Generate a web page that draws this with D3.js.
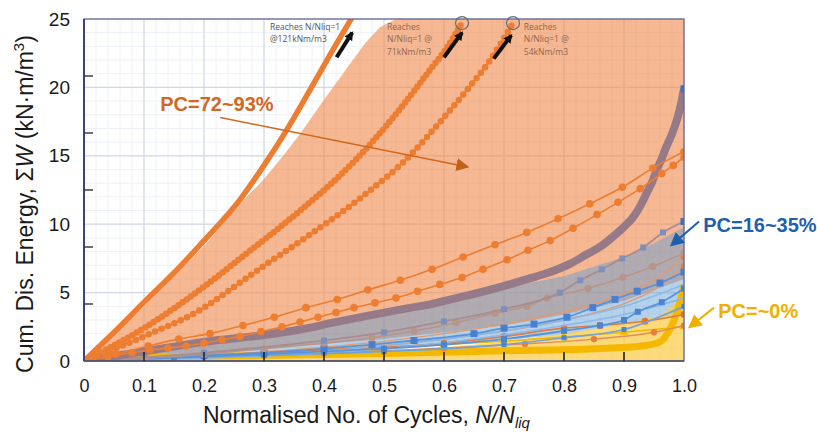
<!DOCTYPE html>
<html>
<head>
<meta charset="utf-8">
<script src="https://cdn.jsdelivr.net/npm/d3@7"></script>
<style>
  body { margin: 0; background: #fff; }
  text { font-family: Arial, "Liberation Sans", sans-serif; }
</style>
</head>
<body>
<div id="grafico"></div>
<script>
// ---- data ----
var xTicks = [0, 0.1, 0.2, 0.3, 0.4, 0.5, 0.6, 0.7, 0.8, 0.9, 1.0];
var xTickLabels = ["0", "0.1", "0.2", "0.3", "0.4", "0.5", "0.6", "0.7", "0.8", "0.9", "1.0"];
var yTicks = [0, 5, 10, 15, 20, 25];

// PC = 72~93% (orange)
var pcHighA = [[0,0],[0.05,2.1],[0.1,4.3],[0.16,6.9],[0.2,8.8],[0.26,11.8],[0.3,14.3],[0.338,16.9],[0.37,19.3],[0.405,22.0],[0.448,25.2]];
var pcHighB = [[0,0],[0.1,2.4],[0.193,5.2],[0.272,7.9],[0.33,9.9],[0.382,11.8],[0.43,13.7],[0.472,15.6],[0.53,18.6],[0.577,21.3],[0.6,22.6],[0.63,24.7]];
var pcHighC = [[0,0],[0.1,1.8],[0.2,3.9],[0.243,5.2],[0.298,6.9],[0.382,9.4],[0.472,12.3],[0.543,15.0],[0.582,16.9],[0.638,19.8],[0.677,22.0],[0.715,24.7]];
var pcHighD = [[0,0],[0.053,0.5],[0.107,1.1],[0.158,1.6],[0.21,2.0],[0.265,2.6],[0.317,3.2],[0.37,3.9],[0.422,4.5],[0.473,5.2],[0.527,5.9],[0.58,6.7],[0.632,7.6],[0.685,8.5],[0.738,9.4],[0.79,10.4],[0.843,11.5],[0.897,12.7],[0.948,14.1],[1.0,15.3]];
var pcHighE = [[0,0],[0.04,0.3],[0.08,0.6],[0.11,0.8],[0.14,0.95],[0.17,1.1],[0.2,1.3],[0.23,1.55],[0.26,1.8],[0.295,2.15],[0.33,2.5],[0.36,2.85],[0.39,3.2],[0.42,3.55],[0.45,3.9],[0.485,4.25],[0.52,4.6],[0.556,5.1],[0.593,5.6],[0.63,6.1],[0.665,6.7],[0.705,7.4],[0.74,8.1],[0.777,8.8],[0.815,9.7],[0.855,10.7],[0.89,11.6],[0.927,12.6],[0.963,13.7],[0.982,14.3],[1.0,14.9]];
var pcHighMauve = [[0,0],[0.1,0.7],[0.2,1.4],[0.3,1.9],[0.36,2.3],[0.415,2.8],[0.472,3.3],[0.52,3.7],[0.582,4.2],[0.64,4.8],[0.693,5.4],[0.74,6.0],[0.777,6.5],[0.81,7.1],[0.838,7.8],[0.862,8.4],[0.882,9.1],[0.9,9.8],[0.915,10.5],[0.928,11.4],[0.938,12.3],[0.947,13.1],[0.955,14.0],[0.963,14.8],[0.97,15.6],[0.98,16.6],[0.988,17.6],[0.995,18.8],[1.0,19.9]];
var orangeUpper = [[0,0],[0.1,4.0],[0.2,8.4],[0.26,11.5],[0.298,13.2],[0.33,14.9],[0.36,16.6],[0.4,19.1],[0.448,22.0],[0.47,23.3],[0.493,24.4],[0.52,25],[1.0,25]];
var orangeLower = [[0,0],[0.3,0.9],[0.5,1.6],[0.7,2.6],[0.8,3.4],[0.9,4.4],[1.0,6.0]];

// PC = 16~35% (blue)
var pcMidA = [[0,0],[0.2,0.6],[0.4,1.5],[0.5,2.1],[0.6,2.9],[0.7,3.8],[0.793,5.0],[0.827,5.9],[0.863,6.7],[0.897,7.5],[0.932,8.3],[0.965,9.4],[1.0,10.2]];
var pcMidB = [[0,0],[0.1,0.2],[0.2,0.5],[0.3,0.9],[0.4,1.3],[0.48,1.7],[0.55,2.2],[0.62,2.8],[0.685,3.5],[0.738,4.0],[0.772,4.6],[0.84,5.3],[0.898,6.1],[0.948,6.9],[1.0,7.9]];
var pcMidC = [[0,0],[0.1,0.2],[0.2,0.4],[0.3,0.6],[0.4,0.9],[0.48,1.2],[0.55,1.5],[0.65,2.0],[0.7,2.4],[0.75,2.7],[0.805,3.2],[0.848,3.9],[0.885,4.5],[0.922,5.1],[0.96,5.7],[1.0,6.5]];
var pcMidD = [[0,0],[0.15,0.25],[0.3,0.5],[0.4,0.7],[0.5,0.9],[0.6,1.2],[0.7,1.6],[0.8,2.2],[0.86,2.6],[0.9,3.0],[0.923,3.6],[0.963,4.3],[1.0,5.3]];
var pcMidE = [[0,0],[0.3,0.4],[0.5,0.7],[0.7,1.2],[0.8,1.7],[0.9,2.3],[1.0,4.0]];
var pcMidF = [[0,0],[0.5,0.9],[0.8,2.6],[0.9,3.4],[1.0,4.6]];
var pcMidG = [[0,0],[0.5,1.1],[0.8,3.0],[0.9,4.0],[1.0,5.6]];
var blueUpper = [[0,0],[0.2,1.2],[0.36,2.4],[0.527,3.9],[0.693,5.3],[0.8,6.2],[0.9,7.6],[0.95,8.6],[1.0,9.8]];
var blueLower = [[0,0],[0.5,0.8],[0.8,1.9],[0.9,2.7],[1.0,3.3]];

// other orange curves low in the plot
var lowOrangeA = [[0,0],[0.2,0.4],[0.4,0.8],[0.6,1.3],[0.7,1.8],[0.8,2.4],[0.86,2.6],[0.935,2.9],[1.0,3.4]];
var lowOrangeB = [[0,0],[0.2,0.3],[0.4,0.55],[0.5,0.75],[0.6,0.95],[0.735,1.25],[0.85,1.6],[0.95,2.1],[1.0,2.6]];
var lowOrangeC = [[0,0],[0.2,0.4],[0.4,1.0],[0.6,2.0],[0.8,3.6],[0.9,4.9],[0.95,5.9],[1.0,7.6]];
var lowOrangeD = [[0,0],[0.2,0.35],[0.4,0.8],[0.6,1.6],[0.8,3.0],[0.9,4.2],[0.95,5.2],[1.0,6.9]];

// PC = ~0% (yellow)
var pcZeroA = [[0,0],[0.1,0.25],[0.3,0.4],[0.5,0.55],[0.7,0.75],[0.85,0.9],[0.93,1.1],[0.96,1.4],[0.975,2.2],[0.988,3.5],[0.995,4.6],[1.0,5.6]];
var pcZeroB = [[0,0],[0.1,0.2],[0.2,0.4],[0.3,0.55],[0.4,0.75],[0.5,0.95],[0.6,1.2],[0.7,1.45],[0.8,1.75],[0.9,2.1],[1.0,2.5]];
var yellowUpper = [[0,0],[0.2,0.35],[0.4,0.55],[0.527,0.7],[0.7,1.4],[0.8,2.0],[0.9,2.7],[0.96,3.3],[0.985,4.2],[1.0,5.6]];
var yellowLower = [[0,0],[1.0,0]];

// "reaches" notes
var reachEnds = [[0.63,24.7],[0.715,24.7]];
var reachArrows = [[[0.421,22.2],[0.447,24.0]],[[0.6,22.2],[0.63,24.0]],[[0.683,22.1],[0.712,23.8]]];
var reachNotes = [
    {x: 0.31, y: 24.2, lines: ["Reaches N/Nliq=1", "@121kNm/m3"], color: "#555"},
    {x: 0.505, y: 24.2, lines: ["Reaches", "N/Nliq=1 @", "71kNm/m3"], color: "#8f6650"},
    {x: 0.733, y: 24.2, lines: ["Reaches", "N/Nliq=1 @", "54kNm/m3"], color: "#8f6650"}
];

// group labels
var groups = [
    {text: "PC=72~93%", color: "#d0681f", tx: 0.127, ty: 18.3, from: [0.227, 17.8], to: [0.638, 14.2]},
    {text: "PC=16~35%", color: "#1f5fae", tx: 1.032, ty: 9.43, from: [1.025, 10.2], to: [0.98, 8.5]},
    {text: "PC=~0%", color: "#f0b000", tx: 1.057, ty: 3.14, from: [1.05, 3.9], to: [1.01, 2.5]}
];

// ---- chart ----
var W = 817, H = 435;
var m = {top: 19, right: 133, bottom: 74, left: 84};
var w = W - m.left - m.right, h = H - m.top - m.bottom;

var x = d3.scaleLinear().domain([0, 1]).range([m.left, m.left + w]);
var y = d3.scaleLinear().domain([0, 25]).range([m.top + h, m.top]);

var svg = d3.select("#grafico").append("svg")
    .attr("width", W)
    .attr("height", H);

var defs = svg.append("defs");
defs.append("clipPath").attr("id", "plotclip")
    .append("rect").attr("x", m.left).attr("y", m.top).attr("width", w).attr("height", h);

function arrowHead(id, color, size) {
    defs.append("marker")
        .attr("id", id)
        .attr("viewBox", "0 0 10 10")
        .attr("refX", 8).attr("refY", 5)
        .attr("markerWidth", size).attr("markerHeight", size)
        .attr("markerUnits", "userSpaceOnUse")
        .attr("orient", "auto")
        .append("path").attr("d", "M0,0 L10,5 L0,10 Z").attr("fill", color);
}
arrowHead("ahOrange", "#c0601a", 13);
arrowHead("ahBlue", "#1f5fae", 14);
arrowHead("ahYellow", "#f0b000", 14);
arrowHead("ahBlack", "#111", 9);

// grid
var grid = svg.append("g");
grid.selectAll(".vminor").data(d3.range(0, 1.0001, 0.02)).enter().append("line")
    .attr("x1", function(d) { return x(d); }).attr("x2", function(d) { return x(d); })
    .attr("y1", y(0)).attr("y2", y(25))
    .attr("stroke", "#edf0f6").attr("stroke-width", 1);
grid.selectAll(".hminor").data(d3.range(0, 25.001, 1)).enter().append("line")
    .attr("y1", function(d) { return y(d); }).attr("y2", function(d) { return y(d); })
    .attr("x1", x(0)).attr("x2", x(1))
    .attr("stroke", "#edf0f6").attr("stroke-width", 1);
grid.selectAll(".vmajor").data(xTicks).enter().append("line")
    .attr("x1", function(d) { return x(d); }).attr("x2", function(d) { return x(d); })
    .attr("y1", y(0)).attr("y2", y(25))
    .attr("stroke", "#d3d9e6").attr("stroke-width", 1.2);
grid.selectAll(".hmajor").data(yTicks).enter().append("line")
    .attr("y1", function(d) { return y(d); }).attr("y2", function(d) { return y(d); })
    .attr("x1", x(0)).attr("x2", x(1))
    .attr("stroke", "#d3d9e6").attr("stroke-width", 1.2);

var plot = svg.append("g").attr("clip-path", "url(#plotclip)");

var line = d3.line()
    .x(function(d) { return x(d[0]); })
    .y(function(d) { return y(d[1]); })
    .curve(d3.curveMonotoneX);

var straight = d3.line()
    .x(function(d) { return x(d[0]); })
    .y(function(d) { return y(d[1]); });

function band(upper, lower, color, opacity) {
    plot.append("path")
        .attr("d", straight(upper.concat(lower.slice().reverse())) + "Z")
        .attr("fill", color)
        .attr("fill-opacity", opacity);
}

// shaded bands
band(orangeUpper, orangeLower, "#f08d4f", 0.62);
band(blueUpper, blueLower, "#5b9bd5", 0.45);
band(yellowUpper, yellowLower, "#fbcd4c", 0.75);

function curve(data, color, width) {
    return plot.append("path")
        .attr("d", line(data))
        .attr("fill", "none")
        .attr("stroke", color)
        .attr("stroke-width", width)
        .attr("stroke-linejoin", "round");
}

function dotted(data, color, size, gap) {
    curve(data, color, size)
        .attr("stroke-linecap", "round")
        .attr("stroke-dasharray", "0," + gap);
}

function circles(data, color, r) {
    plot.append("g").selectAll("circle").data(data).enter().append("circle")
        .attr("cx", function(d) { return x(d[0]); })
        .attr("cy", function(d) { return y(d[1]); })
        .attr("r", r)
        .attr("fill", color);
}

function squares(data, color, s) {
    plot.append("g").selectAll("rect").data(data).enter().append("rect")
        .attr("x", function(d) { return x(d[0]) - s / 2; })
        .attr("y", function(d) { return y(d[1]) - s / 2; })
        .attr("width", s).attr("height", s)
        .attr("fill", color);
}

function triangles(data, color, s) {
    plot.append("g").selectAll("path").data(data).enter().append("path")
        .attr("transform", function(d) { return "translate(" + x(d[0]) + "," + y(d[1]) + ")"; })
        .attr("d", d3.symbol().type(d3.symbolTriangle).size(s))
        .attr("fill", color);
}

// yellow group
curve(pcZeroB, "#f2b800", 1.6);
triangles(pcZeroB.slice(1), "#f2b800", 30);
curve(pcZeroA, "#f5b800", 7);

// low orange curves
curve(lowOrangeC, "#e39a6e", 1.4);
circles(lowOrangeC.slice(-1), "#e8803c", 3.5);
curve(lowOrangeD, "#e39a6e", 1.4);
circles(lowOrangeD.slice(-1), "#e8803c", 3.5);
curve(lowOrangeA, "#e07a40", 1.6);
circles(lowOrangeA.slice(1), "#e8722c", 3.5);
curve(lowOrangeB, "#e48c58", 1.4);
circles(lowOrangeB.slice(1), "#e8803c", 3.2);

// blue group
curve(pcMidF, "#8bb8e4", 1.6);
curve(pcMidG, "#8bb8e4", 1.6);
curve(pcMidE, "#6fa3dc", 1.6);
squares(pcMidE.slice(1), "#4a86d0", 5);
curve(pcMidD, "#5b93d8", 1.8);
squares(pcMidD.slice(1), "#4a86d0", 6);
curve(pcMidC, "#5b93d8", 1.8);
squares(pcMidC.slice(1), "#4a7fcf", 7);
curve(pcMidB, "#b8958a", 1.6);
circles(pcMidB.slice(1), "#b8958a", 3.6);
curve(pcMidA, "#a88c90", 1.8);
squares(pcMidA.slice(1), "#7d8fbf", 6);
squares(pcMidA.slice(-1), "#3f6fc6", 7);

// high orange group
curve(pcHighMauve, "#977a88", 8);
squares(pcHighMauve.slice(-1), "#3f6fc6", 7);
curve(pcHighD, "#ed7d31", 1.6);
circles(pcHighD.slice(1), "#ed7d31", 3.8);
curve(pcHighE, "#ed7d31", 1.6);
circles(pcHighE.slice(1), "#ed7d31", 3.8);
curve(pcHighC, "#ed7d31", 2);
dotted(pcHighC, "#ed7d31", 6.5, 7);
curve(pcHighB, "#ed7d31", 3);
dotted(pcHighB, "#ed7d31", 6.5, 5);
curve(pcHighA, "#ed7d31", 5.5);

// end-point rings and black arrows
svg.append("g").selectAll("circle").data(reachEnds).enter().append("circle")
    .attr("cx", function(d) { return x(d[0]); })
    .attr("cy", function(d) { return y(d[1]); })
    .attr("r", 6.5)
    .attr("fill", "none")
    .attr("stroke", "#6b6b6b")
    .attr("stroke-width", 1.2);

svg.append("g").selectAll("path").data(reachArrows).enter().append("path")
    .attr("d", function(d) { return straight(d); })
    .attr("stroke", "#111")
    .attr("stroke-width", 4)
    .attr("marker-end", "url(#ahBlack)");

reachNotes.forEach(function(n) {
    var t = svg.append("text")
        .attr("x", x(n.x)).attr("y", y(n.y))
        .style("font-size", "8.5px")
        .style("font-family", "'Open Sans', sans-serif")
        .attr("fill", n.color);
    n.lines.forEach(function(s, i) {
        t.append("tspan").attr("x", x(n.x)).attr("dy", i === 0 ? 0 : 12.5).text(s);
    });
});

// frame
svg.append("rect")
    .attr("x", m.left).attr("y", m.top).attr("width", w).attr("height", h)
    .attr("fill", "none").attr("stroke", "#5c6490").attr("stroke-width", 1.2);
svg.append("line")
    .attr("x1", m.left).attr("x2", m.left).attr("y1", m.top).attr("y2", m.top + h)
    .attr("stroke", "#3d4478").attr("stroke-width", 2);
svg.append("line")
    .attr("x1", m.left).attr("x2", m.left + w).attr("y1", m.top + h).attr("y2", m.top + h)
    .attr("stroke", "#4a4f6a").attr("stroke-width", 1.5);

// axes
var xAxis = d3.axisBottom(x).tickValues(xTicks)
    .tickFormat(function(d, i) { return xTickLabels[i]; })
    .tickSize(0).tickPadding(18);
var gx = svg.append("g").attr("transform", "translate(0," + (m.top + h) + ")").call(xAxis);
gx.select(".domain").remove();
gx.selectAll("text").style("font-size", "18px").attr("fill", "#1a1a1a");

// inner tick marks on bottom
svg.append("g").selectAll("line").data(xTicks.slice(1, -1)).enter().append("line")
    .attr("x1", function(d) { return x(d); }).attr("x2", function(d) { return x(d); })
    .attr("y1", y(0)).attr("y2", y(0) - 9)
    .attr("stroke", "#222").attr("stroke-width", 1.6);

var yAxis = d3.axisLeft(y).tickValues(yTicks).tickSize(0).tickPadding(14);
var gy = svg.append("g").attr("transform", "translate(" + m.left + ",0)").call(yAxis);
gy.select(".domain").remove();
gy.selectAll("text").style("font-size", "19px").attr("fill", "#1a1a1a");

// inner tick marks on the left (from the underlying figure)
var leftMarks = d3.range(1, 6).map(function(k) { return k * 25 / 6; });
svg.append("g").selectAll("line").data(leftMarks).enter().append("line")
    .attr("x1", m.left).attr("x2", m.left + 9)
    .attr("y1", function(d) { return y(d); }).attr("y2", function(d) { return y(d); })
    .attr("stroke", "#333").attr("stroke-width", 1.4);

// axis titles
var xt = svg.append("text")
    .attr("x", 203).attr("y", 423)
    .style("font-size", "23px").attr("fill", "#1a1a1a");
xt.append("tspan").text("Normalised No. of Cycles, ");
xt.append("tspan").style("font-style", "italic").text("N/N");
xt.append("tspan").style("font-style", "italic").style("font-size", "15px").attr("dy", 5).text("liq");

var yt = svg.append("text")
    .attr("transform", "translate(33," + (m.top + h / 2 + 14) + ")rotate(-90)")
    .attr("text-anchor", "middle")
    .style("font-size", "23px").attr("fill", "#1a1a1a");
yt.append("tspan").text("Cum. Dis. Energy, \u03A3");
yt.append("tspan").style("font-style", "italic").text("W");
yt.append("tspan").text(" (kN\u00B7m/m");
yt.append("tspan").style("font-size", "15px").attr("dy", -9).text("3");
yt.append("tspan").attr("dy", 9).text(")");

// group labels with arrows
groups.forEach(function(g, i) {
    var id = ["ahOrange", "ahBlue", "ahYellow"][i];
    svg.append("path")
        .attr("d", straight([g.from, g.to]))
        .attr("stroke", g.color)
        .attr("stroke-width", i === 0 ? 1.5 : 2)
        .attr("marker-end", "url(#" + id + ")");
    svg.append("text")
        .attr("x", x(g.tx)).attr("y", y(g.ty))
        .style("font-size", "20px").style("font-weight", "bold")
        .attr("fill", g.color)
        .text(g.text);
});
</script>
</body>
</html>
